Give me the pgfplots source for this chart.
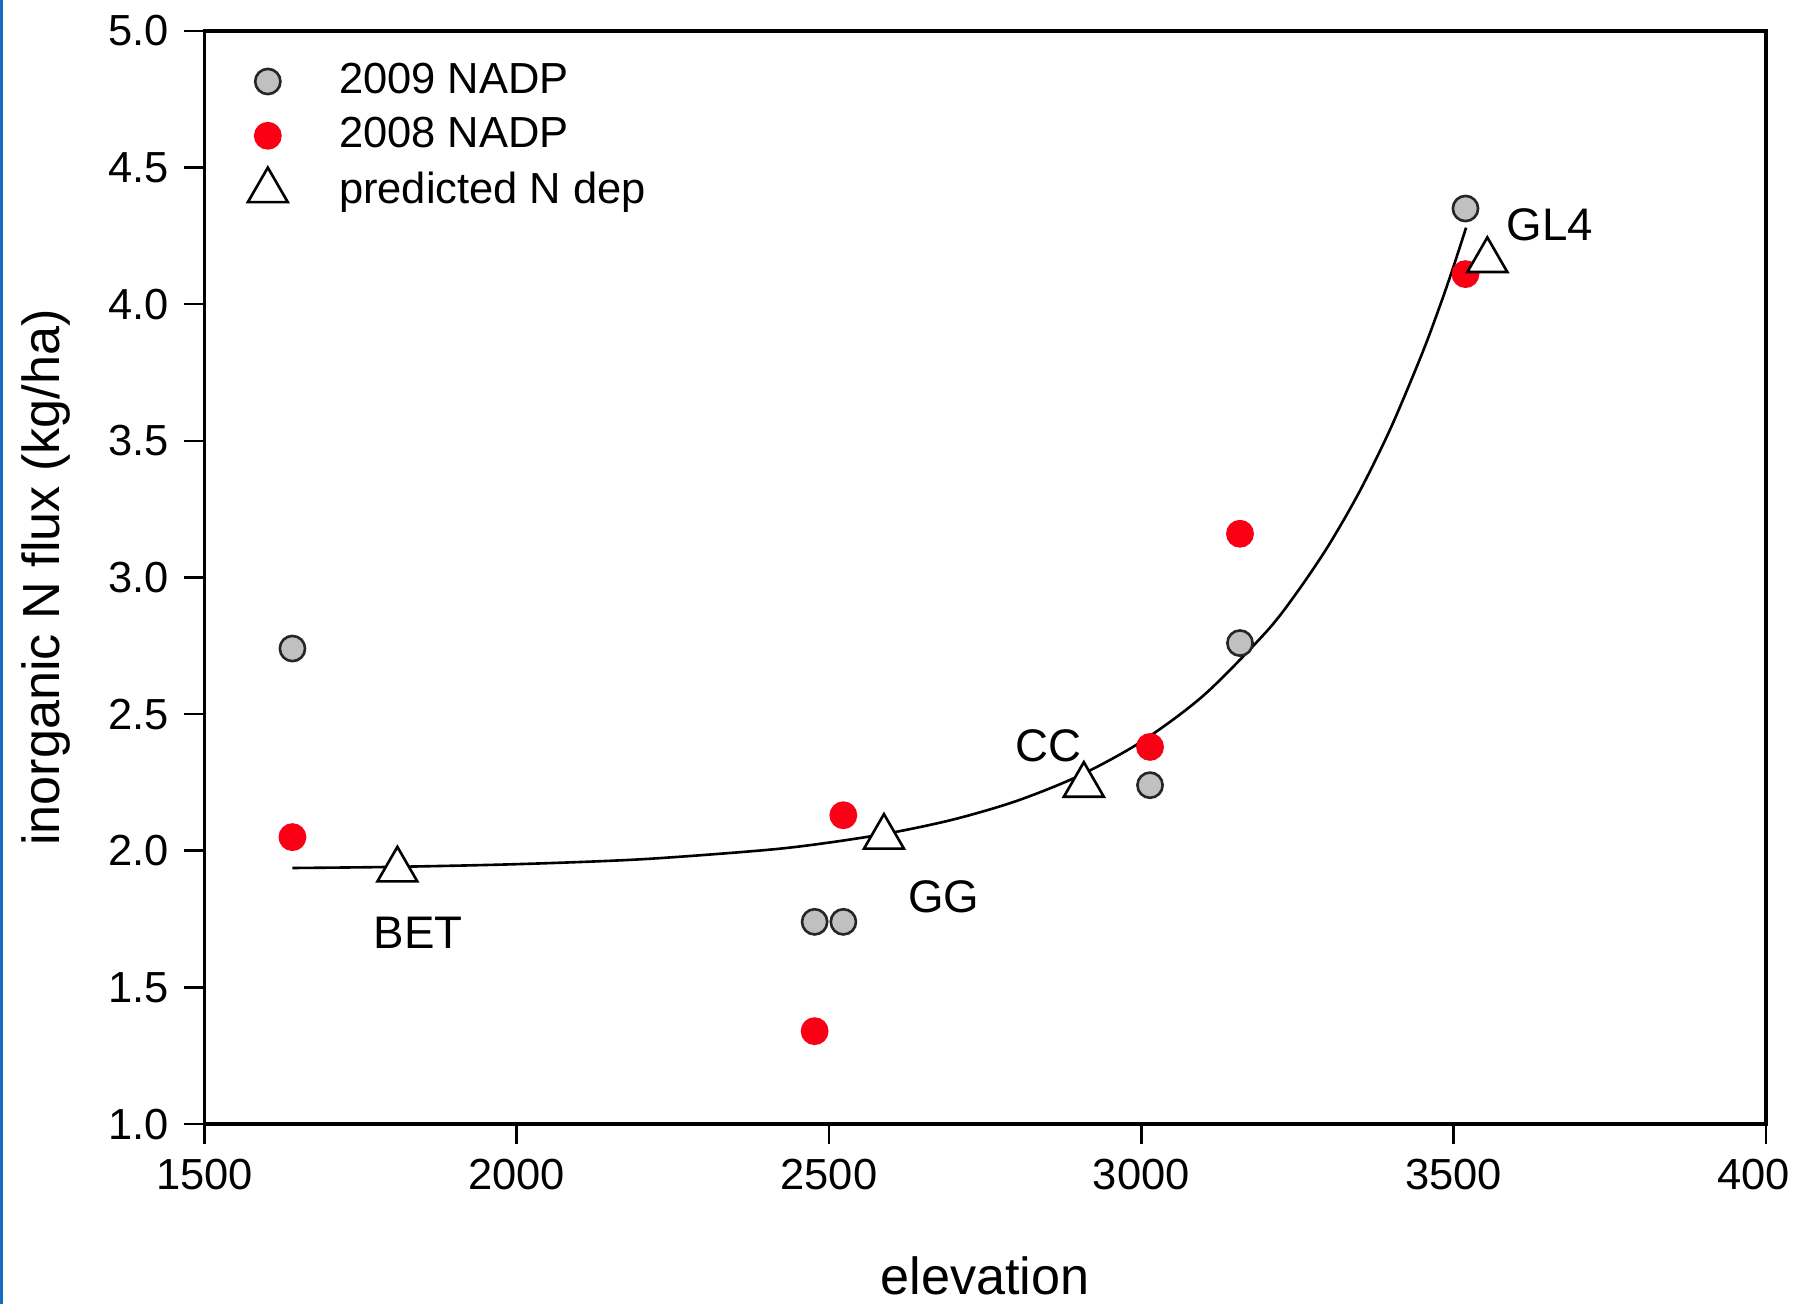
\documentclass[border=0pt]{standalone}
\usepackage{fontspec}
\setmainfont{Liberation Sans}
\usepackage{pgfplots}
\pgfplotsset{compat=1.18}
\definecolor{ptgray}{RGB}{192,192,192}
\definecolor{ptred}{RGB}{250,0,20}
\definecolor{frameblue}{RGB}{20,110,190}

\begin{document}
\begin{tikzpicture}
\useasboundingbox (-47pt,-41.4pt) rectangle (369.7pt,258.5pt);
\fill[frameblue] (-47pt,-41.4pt) rectangle (-46.2pt,258.5pt);
\begin{axis}[
  at={(0pt,0pt)}, anchor=south west,
  scale only axis, width=359.1pt, height=251.4pt,
  xmin=1500, xmax=4000, ymin=1, ymax=5,
  xtick={1500,2000,2500,3000,3500,4000},
  xticklabels={1500,2000,2500,3000,3500,400\phantom{0}},
  ytick={1,1.5,2,2.5,3,3.5,4,4.5,5},
  yticklabel style={/pgf/number format/.cd,fixed,fixed zerofill,precision=1},
  /pgf/number format/assume math mode=true,
  tick align=outside, xtick pos=bottom, ytick pos=left,
  major tick length=4.6pt,
  tick style={black, line width=0.6pt},
  axis line style={black, line width=0.8pt},
  tick label style={font=\fontsize{10}{12}\selectfont},
  xlabel={elevation}, ylabel={inorganic N flux (kg/ha)},
  label style={font=\fontsize{12}{14}\selectfont},
  xlabel style={at={(axis description cs:0.5,-0.139)}, anchor=center},
  ylabel style={at={(axis description cs:-0.1016,0.5)}, anchor=center},
  legend style={draw=none, fill=none, at={(0,1)}, anchor=north west, xshift=6.8pt, yshift=-3.2pt,
    font=\fontsize{10}{12}\selectfont, row sep=0pt,
    /tikz/every odd column/.style={column sep=9.8pt}},
  legend cell align=left,
]
\addplot[only marks, mark=*, mark size=2.9pt, mark options={fill=ptgray, draw=black!85, line width=0.6pt}] coordinates {
(1641,2.74) (2477,1.74) (2523,1.74) (3014,2.24) (3158,2.76) (3519,4.35)};
\addplot[only marks, mark=*, mark size=3pt, mark options={fill=ptred, draw=ptred}] coordinates {
(1641,2.05) (2477,1.34) (2523,2.13) (3014,2.38) (3158,3.16) (3519,4.11)};
\addplot[forget plot, black, line width=0.6pt, smooth] coordinates {
(1641,1.937) (1800,1.941) (2000,1.951) (2200,1.969) (2400,2.003) (2500,2.030)
(2600,2.066) (2700,2.115) (2800,2.182) (2900,2.274) (3000,2.399) (3100,2.569)
(3200,2.801) (3250,2.948) (3300,3.118) (3350,3.317) (3400,3.550) (3450,3.822)
(3480,4.006) (3500,4.139) (3520,4.280)};
\addplot[only marks, mark=triangle*, mark size=5.3pt, mark options={fill=white, draw=black, line width=0.6pt}] coordinates {
(1809,1.93) (2588,2.05) (2908,2.24) (3554,4.16)};
\legend{2009 NADP, 2008 NADP, predicted N dep}
\node[font=\fontsize{10.5}{12}\selectfont] at (axis cs:1842,1.70) {BET};
\node[font=\fontsize{10.5}{12}\selectfont] at (axis cs:2684,1.83) {GG};
\node[font=\fontsize{10.5}{12}\selectfont] at (axis cs:2851,2.383) {CC};
\node[font=\fontsize{10.5}{12}\selectfont] at (axis cs:3654,4.29) {GL4};
\end{axis}
\end{tikzpicture}
\end{document}
